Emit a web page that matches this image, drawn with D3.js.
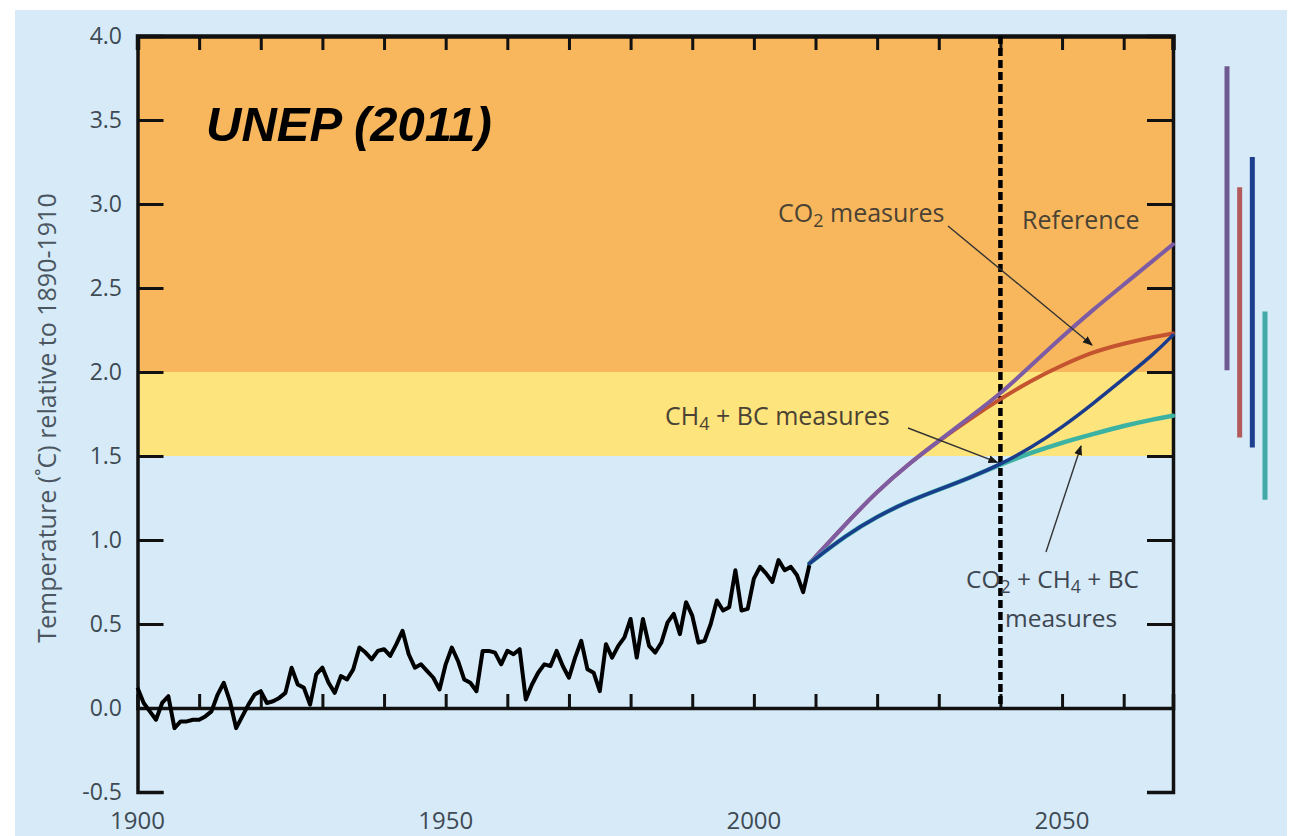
<!DOCTYPE html>
<html>
<head>
<meta charset="utf-8">
<script src="https://cdn.jsdelivr.net/npm/d3@7"></script>
<style>
  html, body { margin: 0; padding: 0; background: #ffffff; }
  svg { display: block; }
</style>
</head>
<body>
<svg id="chart" width="1292" height="836"></svg>
<script>
// Observed annual temperature anomaly, 1900-2009 (°C relative to 1890-1910)
const obsYears = d3.range(1900, 2010);
const obsValues = [
  0.12, 0.03, -0.02, -0.07, 0.03, 0.07, -0.12, -0.08, -0.08, -0.07,
  -0.07, -0.05, -0.02, 0.08, 0.15, 0.04, -0.12, -0.05, 0.02, 0.08,
  0.10, 0.03, 0.04, 0.06, 0.09, 0.24, 0.14, 0.12, 0.02, 0.20,
  0.24, 0.15, 0.09, 0.19, 0.17, 0.23, 0.36, 0.33, 0.29, 0.34,
  0.35, 0.31, 0.38, 0.46, 0.32, 0.24, 0.26, 0.22, 0.18, 0.11,
  0.26, 0.36, 0.28, 0.17, 0.15, 0.10, 0.34, 0.34, 0.33, 0.26,
  0.34, 0.32, 0.35, 0.05, 0.14, 0.21, 0.26, 0.25, 0.34, 0.25,
  0.18, 0.30, 0.40, 0.23, 0.21, 0.10, 0.38, 0.30, 0.37, 0.42,
  0.53, 0.30, 0.53, 0.37, 0.33, 0.39, 0.51, 0.56, 0.44, 0.63,
  0.55, 0.39, 0.40, 0.50, 0.64, 0.58, 0.60, 0.82, 0.58, 0.59,
  0.77, 0.84, 0.80, 0.75, 0.88, 0.82, 0.84, 0.79, 0.69, 0.85
];

// Scenario projections, 2009-2068
const projYears      = [2009, 2015, 2020, 2025, 2030, 2035, 2040, 2045, 2050, 2055, 2060, 2065, 2068];
const referenceVals  = [0.86, 1.10, 1.29, 1.45, 1.59, 1.73, 1.87, 2.04, 2.21, 2.37, 2.52, 2.67, 2.76];
const co2Vals        = [0.86, 1.10, 1.29, 1.45, 1.59, 1.72, 1.84, 1.95, 2.04, 2.12, 2.17, 2.21, 2.23];
const ch4bcVals      = [0.86, 1.03, 1.14, 1.23, 1.30, 1.37, 1.45, 1.55, 1.67, 1.81, 1.96, 2.11, 2.22];
const allMeasuresVals= [0.86, 1.03, 1.14, 1.23, 1.30, 1.37, 1.45, 1.52, 1.58, 1.63, 1.68, 1.72, 1.74];

// Likely ranges in 2070 for each scenario
const rangeNames = ["Reference", "CO2 measures", "CH4 + BC measures", "CO2 + CH4 + BC measures"];
const rangeLow   = [2.01, 1.61, 1.55, 1.24];
const rangeHigh  = [3.82, 3.10, 3.28, 2.36];

// Axis ticks and shaded temperature bands
const yTickValues = [-0.5, 0.0, 0.5, 1.0, 1.5, 2.0, 2.5, 3.0, 3.5, 4.0];
const xTickMinor  = d3.range(1910, 2061, 10);
const xTickLabels = [1900, 1950, 2000, 2050];
const bandLimits  = [[2.0, 4.0], [1.5, 2.0]];
const markerYear  = 2040;

const colors = {
  bgBlue: "#d6eaf8",
  orange: "#f8b75c",
  yellow: "#fee47c",
  reference: "#7d5ca4",
  co2: "#c4532f",
  ch4bc: "#1b3c8c",
  all: "#3bb2a2",
  barRef: "#6f5b91",
  barCo2: "#b35a5c",
  barCh4: "#1d3f90",
  barAll: "#43a9a9",
  tickText: "#3e4a54",
  note: "#4a4234"
};

const svg = d3.select("#chart");
const W = 1292, H = 836;
const plot = { left: 137.5, right: 1173, top: 36, bottom: 792 };

const x = d3.scaleLinear().domain([1900, 2068]).range([plot.left, plot.right]);
const y = d3.scaleLinear().domain([-0.5, 4.0]).range([plot.bottom, plot.top]);

// page background
svg.append("rect").attr("x", 0).attr("y", 0).attr("width", W).attr("height", H).attr("fill", "#ffffff");
svg.append("rect").attr("x", 15).attr("y", 10).attr("width", 1272).attr("height", H - 10).attr("fill", colors.bgBlue);

// temperature bands
svg.append("rect")
  .attr("x", x(1900)).attr("width", x(2068) - x(1900))
  .attr("y", y(bandLimits[0][1])).attr("height", y(bandLimits[0][0]) - y(bandLimits[0][1]))
  .attr("fill", colors.orange);
svg.append("rect")
  .attr("x", x(1900)).attr("width", x(2068) - x(1900))
  .attr("y", y(bandLimits[1][1])).attr("height", y(bandLimits[1][0]) - y(bandLimits[1][1]))
  .attr("fill", colors.yellow);

// title
svg.append("text")
  .attr("x", 206).attr("y", 141)
  .attr("font-family", "Liberation Sans, Arial, sans-serif")
  .attr("font-weight", "bold").attr("font-style", "italic")
  .attr("font-size", 49).attr("fill", "#000")
  .text("UNEP (2011)");

// axes
const axisColor = "#111";
const yLeft = d3.axisRight(y).tickValues(yTickValues.filter(v => v < 4)).tickSize(26).tickFormat("");
const gl = svg.append("g").attr("transform", `translate(${plot.left},0)`).call(yLeft);
const yRight = d3.axisLeft(y).tickValues(yTickValues.filter(v => v < 4)).tickSize(26).tickFormat("");
const gr = svg.append("g").attr("transform", `translate(${plot.right},0)`).call(yRight);
const xZero = d3.axisTop(x).tickValues(xTickMinor).tickSize(14).tickFormat("");
const gz = svg.append("g").attr("transform", `translate(0,${y(0)})`).call(xZero);
const xTop = d3.axisBottom(x).tickValues(xTickMinor).tickSize(14).tickFormat("");
const gt = svg.append("g").attr("transform", `translate(0,${y(4)})`).call(xTop);

[gl, gr, gz, gt].forEach(g => {
  g.select(".domain").attr("stroke", axisColor).attr("stroke-width", 3.5);
  g.selectAll(".tick line").attr("stroke", axisColor).attr("stroke-width", 3);
});
gt.select(".domain").attr("stroke-width", 4.5);

// y tick labels
svg.append("g").selectAll("text")
  .data(yTickValues)
  .join("text")
  .attr("x", 122).attr("y", d => y(d))
  .attr("dy", "0.35em")
  .attr("text-anchor", "end")
  .attr("font-family", "Open Sans, sans-serif")
  .attr("font-size", 23).attr("fill", colors.tickText)
  .text(d => d.toFixed(1));

// x tick labels
svg.append("g").selectAll("text")
  .data(xTickLabels)
  .join("text")
  .attr("x", d => x(d)).attr("y", 829)
  .attr("text-anchor", "middle")
  .attr("font-family", "Open Sans, sans-serif")
  .attr("font-size", 24).attr("fill", colors.tickText)
  .text(d => d);

// y axis title
svg.append("text")
  .attr("transform", "translate(56,418) rotate(-90)")
  .attr("text-anchor", "middle")
  .attr("font-family", "Open Sans, sans-serif")
  .attr("font-size", 25).attr("fill", "#4a5660")
  .text("Temperature (˚C) relative to 1890-1910");

// 2040 marker
svg.append("line")
  .attr("x1", x(markerYear)).attr("x2", x(markerYear))
  .attr("y1", y(4)).attr("y2", y(0))
  .attr("stroke", "#000").attr("stroke-width", 4.5)
  .attr("stroke-dasharray", "8,4");

// projections
const projLine = vals => d3.line()
  .x((d, i) => x(projYears[i]))
  .y(d => y(d))
  .curve(d3.curveBasis)(vals);

const drawProj = (vals, color, width) =>
  svg.append("path").attr("d", projLine(vals))
    .attr("fill", "none").attr("stroke", color)
    .attr("stroke-width", width).attr("stroke-linecap", "round");

drawProj(co2Vals, colors.co2, 4);
drawProj(referenceVals, colors.reference, 4);
drawProj(allMeasuresVals, colors.all, 4.5);
drawProj(ch4bcVals, colors.ch4bc, 3.5);

// observations
svg.append("path")
  .datum(obsValues)
  .attr("d", d3.line().x((d, i) => x(obsYears[i])).y(d => y(d)))
  .attr("fill", "none").attr("stroke", "#000")
  .attr("stroke-width", 4).attr("stroke-linejoin", "round");

// range bars in 2070
const rx = d3.scalePoint().domain(rangeNames).range([1227, 1265]);
const barColors = [colors.barRef, colors.barCo2, colors.barCh4, colors.barAll];
svg.append("g").selectAll("line")
  .data(rangeNames)
  .join("line")
  .attr("x1", d => rx(d)).attr("x2", d => rx(d))
  .attr("y1", (d, i) => y(rangeHigh[i])).attr("y2", (d, i) => y(rangeLow[i]))
  .attr("stroke", (d, i) => barColors[i]).attr("stroke-width", 5);

// annotations
const defs = svg.append("defs");
defs.append("marker")
  .attr("id", "arrowhead")
  .attr("viewBox", "0 0 10 10").attr("refX", 9).attr("refY", 5)
  .attr("markerWidth", 10).attr("markerHeight", 10)
  .attr("markerUnits", "userSpaceOnUse")
  .attr("orient", "auto")
  .append("path").attr("d", "M0,1 L10,5 L0,9 Z").attr("fill", "#1a1a1a");

const arrow = (x1, y1, x2, y2) =>
  svg.append("line")
    .attr("x1", x1).attr("y1", y1).attr("x2", x2).attr("y2", y2)
    .attr("stroke", "#333").attr("stroke-width", 1.4)
    .attr("marker-end", "url(#arrowhead)");

arrow(948, 226, 1092, 345);
arrow(908, 428, x(markerYear) - 3, y(1.45) - 2);
arrow(1046, 552, 1081, 446);

// label with optional subscripts
const note = (tx, ty, parts, size = 25) => {
  const t = svg.append("text")
    .attr("x", tx).attr("y", ty)
    .attr("font-family", "Open Sans, sans-serif")
    .attr("font-size", size).attr("fill", colors.note);
  let shifted = false;
  parts.forEach(p => {
    const s = t.append("tspan").text(p.t);
    if (p.sub) {
      s.attr("dy", 5).attr("font-size", size * 0.72);
      shifted = true;
    } else if (shifted) {
      s.attr("dy", -5);
      shifted = false;
    }
  });
  return t;
};

note(778, 222, [{ t: "CO" }, { t: "2", sub: true }, { t: " measures" }]);
note(1022, 229, [{ t: "Reference" }]);
note(665, 425, [{ t: "CH" }, { t: "4", sub: true }, { t: " + BC measures" }]);
note(966, 588, [{ t: "CO" }, { t: "2", sub: true }, { t: " + CH" }, { t: "4", sub: true }, { t: " + BC" }], 24.5).attr("fill", "#3e4650");
note(1005, 627, [{ t: "measures" }], 24.5).attr("fill", "#3e4650");
</script>
</body>
</html>
